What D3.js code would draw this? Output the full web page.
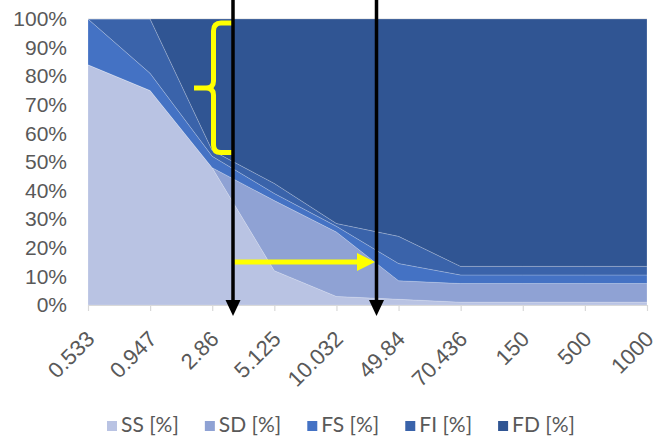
<!DOCTYPE html>
<html>
<head>
<meta charset="utf-8">
<script src="https://cdn.jsdelivr.net/npm/d3@7"></script>
<style>
  html, body { margin: 0; padding: 0; background: #fff; }
  svg { display: block; font-family: Lato, "Open Sans", sans-serif; }
</style>
</head>
<body>
<svg id="chart" width="667" height="439"></svg>
<script>
const categories = ["0.533", "0.947", "2.86", "5.125", "10.032", "49.84", "70.436", "150", "500", "1000"];
const seriesNames = ["SS [%]", "SD [%]", "FS [%]", "FI [%]", "FD [%]"];
const SS = [84, 75, 48, 12, 3, 2, 1, 1, 1, 1];
const SD = [0, 0, 0, 24.5, 22.5, 6.5, 6.5, 6.5, 6.5, 6.5];
const FS = [16, 6, 4, 2.5, 2, 6, 3, 3, 3, 3];
const FI = [0, 19, 2, 3.5, 1, 9.5, 3, 3, 3, 3];
const FD = [0, 0, 46, 57.5, 71.5, 76, 86.5, 86.5, 86.5, 86.5];
const yTicks = [0, 10, 20, 30, 40, 50, 60, 70, 80, 90, 100];
const colors = ["#B9C3E3", "#8FA2D4", "#4472C4", "#3A63AA", "#305593"];

const seriesValues = [SS, SD, FS, FI, FD];
const rows = categories.map((c, i) => {
  const r = { cat: c };
  seriesNames.forEach((n, k) => r[n] = seriesValues[k][i]);
  return r;
});

const svg = d3.select("#chart");
const mLeft = 88, mRight = 647, mTop = 19, mBottom = 305;

const x = d3.scalePoint().domain(categories).range([mLeft, mRight]).padding(0);
const y = d3.scaleLinear().domain([0, 100]).range([mBottom, mTop]);

// gridlines (hidden mostly behind areas)
svg.append("g").selectAll("line").data(yTicks).join("line")
  .attr("x1", mLeft).attr("x2", mRight)
  .attr("y1", d => y(d)).attr("y2", d => y(d))
  .attr("stroke", "#d9d9d9").attr("stroke-width", 1);

const stack = d3.stack().keys(seriesNames);
const stacked = stack(rows);

const area = d3.area()
  .x(d => x(d.data.cat))
  .y0(d => y(d[0]))
  .y1(d => y(d[1]));

svg.append("g").selectAll("path").data(stacked).join("path")
  .attr("d", area)
  .attr("fill", (d, i) => colors[i])
  .attr("stroke", "rgba(255,255,255,0.25)")
  .attr("stroke-width", 0.8);

// x axis
const xAxis = d3.axisBottom(x).tickSize(6).tickSizeOuter(0);
const gx = svg.append("g").attr("transform", `translate(0,${mBottom})`).call(xAxis);
gx.select(".domain").attr("stroke", "#d9d9d9").attr("stroke-width", 1.2);
gx.selectAll(".tick line").attr("stroke", "#d9d9d9").attr("stroke-width", 1.2);
gx.selectAll(".tick text")
  .attr("fill", "#595959")
  .style("font-size", "22px")
  .attr("text-anchor", "end")
  .attr("dy", "0.35em")
  .attr("transform", "translate(2,30) rotate(-45)")
  .attr("x", 0).attr("y", 0);

// y axis
const yAxis = d3.axisLeft(y).tickValues(yTicks).tickSize(0).tickFormat(d => d + "%");
const gy = svg.append("g").attr("transform", `translate(${mLeft - 21},0)`).call(yAxis);
gy.select(".domain").remove();
gy.selectAll(".tick text").attr("fill", "#595959").style("font-size", "21px").attr("x", 0);

// legend
const legend = svg.append("g").attr("transform", "translate(0,425)");
const items = legend.selectAll("g").data(seriesNames).join("g");
items.append("rect").attr("width", 10).attr("height", 10).attr("y", -4)
  .attr("fill", (d, i) => colors[i]);
items.append("text").attr("x", 14).attr("dy", "0.35em")
  .attr("fill", "#595959").style("font-size", "21px").text(d => d);
let widths = [];
items.each(function () { widths.push(this.getBBox().width); });
const gap = 26;
const total = d3.sum(widths) + gap * (widths.length - 1);
let cx = 341 - total / 2;
items.attr("transform", (d, i) => {
  const t = `translate(${cx},0)`;
  cx += widths[i] + gap;
  return t;
});

// annotations: yellow brace
const ann = svg.append("g");
ann.append("path")
  .attr("d", "M233,23 L221,23 Q213.5,23 213.5,31 L213.5,81 Q213.5,88 206,88 L194,88 M206,88 Q213.5,88 213.5,95 L213.5,145 Q213.5,152.5 221,152.5 L233,152.5")
  .attr("fill", "none").attr("stroke", "#FFFF00").attr("stroke-width", 5)
  .attr("stroke-linejoin", "round");

// yellow horizontal arrow
ann.append("line").attr("x1", 234).attr("x2", 360).attr("y1", 262).attr("y2", 262)
  .attr("stroke", "#FFFF00").attr("stroke-width", 5);
ann.append("path").attr("d", "M357,253 L375,262 L357,271 Z").attr("fill", "#FFFF00");

// black vertical arrows
[233, 376.5].forEach(ax => {
  ann.append("line").attr("x1", ax).attr("x2", ax).attr("y1", 0).attr("y2", 304)
    .attr("stroke", "#000").attr("stroke-width", 3.5);
  ann.append("path").attr("d", `M${ax - 7.5},300 L${ax + 7.5},300 L${ax},316 Z`).attr("fill", "#000");
});
</script>
</body>
</html>
